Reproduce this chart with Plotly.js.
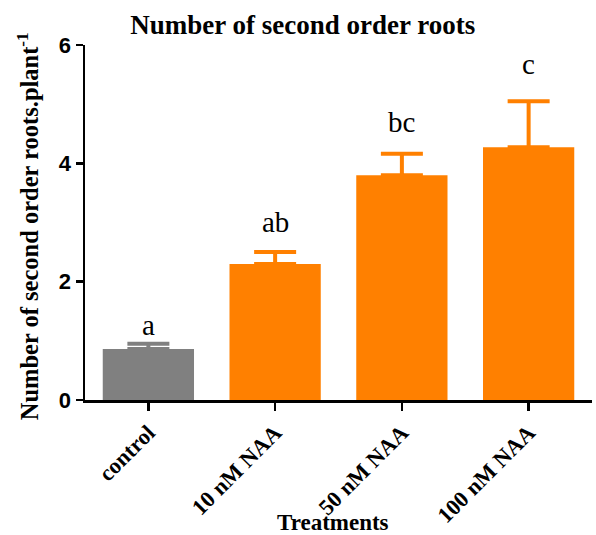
<!DOCTYPE html>
<html>
<head>
<meta charset="utf-8">
<script src="https://cdn.plot.ly/plotly-3.0.1.min.js"></script>
<style>html,body{margin:0;padding:0;background:#fff;}#chart{width:596px;height:535px;}</style>
</head>
<body>
<div id="chart"></div>
<script>
const categories = ['control', '10 nM NAA', '50 nM NAA', '100 nM NAA'];
const means = [0.86, 2.30, 3.80, 4.27];
const errors = [0.09, 0.20, 0.36, 0.78];
const letters = ['a', 'ab', 'bc', 'c'];
const yTicks = [0, 2, 4, 6];

const GRAY = '#808080', ORANGE = '#FF8000';
const serif = 'Liberation Serif, Times New Roman, serif';

function trace(idx, color) {
  return {
    type: 'bar',
    x: idx.map(i => categories[i]),
    y: idx.map(i => means[i]),
    width: 0.72,
    marker: {color: color, line: {width: 0}},
    error_y: {type: 'data', symmetric: false, array: idx.map(i => errors[i]),
              arrayminus: idx.map(() => 0), color: color, thickness: 4, width: 21},
    hoverinfo: 'skip'
  };
}
const traces = [trace([0], GRAY), trace([1, 2, 3], ORANGE)];

const letterShift = [1, 12, 14, 19];
const annotations = letters.map((t, i) => ({
  x: categories[i], y: means[i] + errors[i], xref: 'x', yref: 'y',
  text: t, showarrow: false, yanchor: 'bottom', yshift: letterShift[i],
  font: {family: serif, size: 29, color: '#000'}
}));
annotations.push({
  xref: 'paper', yref: 'paper', x: 0.49, y: -0.344, xanchor: 'center', yanchor: 'middle',
  text: 'Treatments', showarrow: false,
  font: {family: serif, size: 23, color: '#000', weight: 'bold'}
});
annotations.push({
  xref: 'paper', yref: 'paper', x: -0.112, y: 0.49, xanchor: 'center', yanchor: 'middle',
  textangle: -90, text: 'Number of second order roots.plant<sup>-1</sup>', showarrow: false,
  font: {family: serif, size: 24.5, color: '#000', weight: 'bold'}
});

const layout = {
  width: 596, height: 535,
  margin: {l: 85, r: 4, t: 45, b: 135},
  paper_bgcolor: '#fff', plot_bgcolor: '#fff',
  showlegend: false,
  barmode: 'overlay',
  title: {text: 'Number of second order roots', x: 0.508, xref: 'container', xanchor: 'center',
          y: 0.955, yref: 'container', yanchor: 'middle',
          font: {family: serif, size: 27, color: '#000', weight: 'bold'}},
  xaxis: {
    type: 'category', categoryorder: 'array', categoryarray: categories,
    range: [-0.5, 3.5], showgrid: false, zeroline: false,
    showline: true, linecolor: '#000', linewidth: 2.5,
    ticks: 'outside', ticklen: 8, tickwidth: 2.5, tickcolor: '#000',
    tickangle: -45,
    tickfont: {family: serif, size: 22.5, color: '#000', weight: 'bold'}
  },
  yaxis: {
    range: [0, 6], tickvals: yTicks, ticktext: yTicks.map(String),
    showgrid: false, zeroline: false,
    showline: true, linecolor: '#000', linewidth: 2.5,
    ticks: 'outside', ticklen: 7, tickwidth: 2.5, tickcolor: '#000',
    tickfont: {family: 'Liberation Sans, Arial, sans-serif', size: 22, color: '#000', weight: 'bold'}
  },
  annotations: annotations
};

Plotly.newPlot('chart', traces, layout, {displayModeBar: false, staticPlot: true});
</script>
</body>
</html>
